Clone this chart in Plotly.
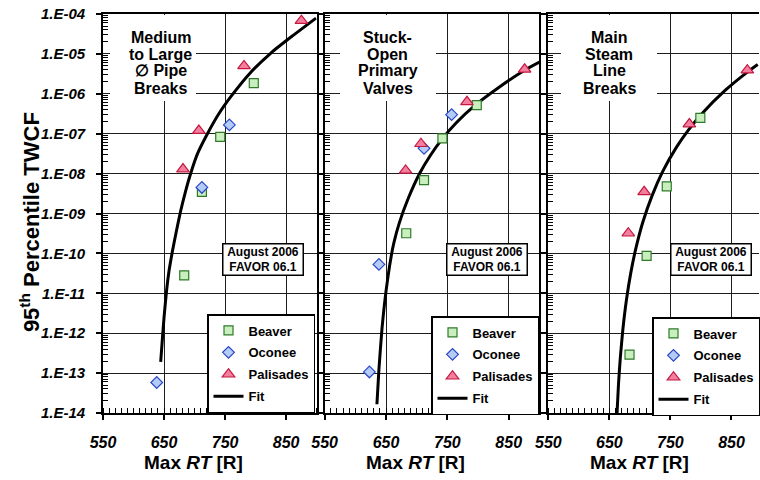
import plotly.graph_objects as go

# ---------------- data ----------------
panel_titles = [["Medium", "to Large", "\u2205 Pipe", "Breaks"],
                ["Stuck-", "Open", "Primary", "Valves"],
                ["Main", "Steam", "Line", "Breaks"]]

# Panel 1: Medium to Large Pipe Breaks
p1_beaver_x = [683, 712, 742, 797]
p1_beaver_y = [2.8e-11, 3.5e-9, 8.3e-8, 1.85e-6]
p1_oconee_x = [638, 712, 757]
p1_oconee_y = [5.8e-14, 4.5e-9, 1.66e-7]
p1_palis_x = [681, 707, 781, 875]
p1_palis_y = [1.3e-8, 1.2e-7, 5.0e-6, 6.8e-5]
p1_fit_x = [644.5, 647, 650, 654, 658, 664, 670, 677, 685, 694, 705, 720, 740, 760, 790, 825, 860, 899]
p1_fit_y = [1.9e-13, 6.3e-13, 2.5e-12, 1.12e-11, 3.5e-11, 1.2e-10, 3.5e-10, 1.12e-9, 3.5e-9, 1.05e-8,
            3.2e-8, 9.3e-8, 3.2e-7, 8.7e-7, 3.2e-6, 1.05e-5, 2.8e-5, 7.9e-5]

# Panel 2: Stuck-Open Primary Valves
p2_beaver_x = [683, 712, 742, 798]
p2_beaver_y = [3.2e-10, 6.9e-9, 7.6e-8, 5.2e-7]
p2_oconee_x = [623, 638.5, 712, 757]
p2_oconee_y = [1.07e-13, 5.3e-11, 4.3e-8, 3.0e-7]
p2_palis_x = [682, 707, 782, 876]
p2_palis_y = [1.2e-8, 5.6e-8, 6.3e-7, 4.1e-6]
p2_fit_x = [635.2, 638.5, 643.4, 650, 658.7, 663, 672, 686, 705, 722, 740.7, 765, 795, 835, 876, 901]
p2_fit_y = [1.66e-14, 1.26e-13, 1.26e-12, 1.12e-11, 8.9e-11, 1.9e-10, 6.0e-10, 2.34e-9, 1.02e-8, 2.8e-8,
            7.1e-8, 1.9e-7, 5.1e-7, 1.48e-6, 3.9e-6, 6.3e-6]

# Panel 3: Main Steam Line Breaks
p3_beaver_x = [683, 711, 744, 799]
p3_beaver_y = [2.9e-13, 8.7e-11, 4.8e-9, 2.5e-7]
p3_oconee_x = []
p3_oconee_y = []
p3_palis_x = [681, 707, 781, 876]
p3_palis_y = [3.2e-10, 3.5e-9, 1.74e-7, 3.9e-6]
p3_fit_x = [662, 665, 668, 672, 678, 685, 693, 705, 720, 737, 760, 780, 800, 840, 876, 893]
p3_fit_y = [6.9e-15, 5.5e-14, 2.5e-13, 1.2e-12, 6.9e-12, 3.2e-11, 1.26e-10, 6.2e-10, 2.8e-9, 1.1e-8,
            4.6e-8, 1.26e-7, 3.0e-7, 1.23e-6, 3.5e-6, 5.4e-6]

x_tick_vals = [550, 650, 750, 850]
y_tick_exps = [-4, -5, -6, -7, -8, -9, -10, -11, -12, -13, -14]
y_tick_text = ["1.E-%02d" % (-e) for e in y_tick_exps]
series_names = ["Beaver", "Oconee", "Palisades", "Fit"]

panels = [
    (p1_beaver_x, p1_beaver_y, p1_oconee_x, p1_oconee_y, p1_palis_x, p1_palis_y, p1_fit_x, p1_fit_y),
    (p2_beaver_x, p2_beaver_y, p2_oconee_x, p2_oconee_y, p2_palis_x, p2_palis_y, p2_fit_x, p2_fit_y),
    (p3_beaver_x, p3_beaver_y, p3_oconee_x, p3_oconee_y, p3_palis_x, p3_palis_y, p3_fit_x, p3_fit_y),
]

# ---------------- layout geometry ----------------
W, H = 760, 480
ML, MR, MT, MB = 103, 0, 14, 67
PW = W - ML - MR
PH = H - MT - MB
panel_px = [(103, 317), (325, 540), (549, 760)]
PXU = 214 / 350.0  # pixels per x unit
x_ranges = [[550, 900], [550, 900], [550, 550 + (760 - 549) / PXU]]


def px(xp):
    return (xp - ML) / PW


def py(yp):
    return 1 - (yp - MT) / PH


FONT = "Liberation Sans, Arial, sans-serif"
GRID = "#1e1e1e"

green_fill, green_line = "#c9efbf", "#2f7a2a"
blue_fill, blue_line = "#b4ccf5", "#2946c8"
red_fill, red_line = "#f37ea0", "#c4183e"

fig = go.Figure()

for i, (bx, by, ox, oy, px_, py_, fx, fy) in enumerate(panels):
    xa = "x" if i == 0 else "x%d" % (i + 1)
    ya = "y" if i == 0 else "y%d" % (i + 1)
    lg = "legend" if i == 0 else "legend%d" % (i + 1)
    fig.add_trace(go.Scatter(x=fx, y=fy, mode="lines", name=series_names[3],
                             line=dict(color="black", width=3, shape="spline", smoothing=0.5),
                             xaxis=xa, yaxis=ya, legend=lg, legendgroup="f%d" % i, legendrank=4))
    fig.add_trace(go.Scatter(x=bx, y=by, mode="markers", name=series_names[0],
                             marker=dict(symbol="square", size=9, color=green_fill, line=dict(color=green_line, width=1.2)),
                             xaxis=xa, yaxis=ya, legend=lg, legendgroup="b%d" % i, legendrank=1))
    fig.add_trace(go.Scatter(x=ox if ox else [None], y=oy if oy else [None], mode="markers", name=series_names[1],
                             marker=dict(symbol="diamond", size=9, color=blue_fill, line=dict(color=blue_line, width=1.2)),
                             xaxis=xa, yaxis=ya, legend=lg, legendgroup="o%d" % i, legendrank=2))
    fig.add_trace(go.Scatter(x=px_, y=py_, mode="markers", name=series_names[2],
                             marker=dict(symbol="triangle-up", size=11, color=red_fill, line=dict(color=red_line, width=1.2)),
                             xaxis=xa, yaxis=ya, legend=lg, legendgroup="p%d" % i, legendrank=3))

minor_y = []
for e in range(-14, -4):
    for k in range(2, 10):
        minor_y.append(k * 10.0 ** e)

layout = dict(width=W, height=H, margin=dict(l=ML, r=MR, t=MT, b=MB),
              paper_bgcolor="white", plot_bgcolor="white", showlegend=True,
              font=dict(family=FONT, color="black"))

for i in range(3):
    xk = "xaxis" if i == 0 else "xaxis%d" % (i + 1)
    yk = "yaxis" if i == 0 else "yaxis%d" % (i + 1)
    l, r = panel_px[i]
    layout[xk] = dict(domain=[(l - ML) / PW, (r - ML) / PW], range=x_ranges[i], type="linear",
                      tickmode="array", tickvals=x_tick_vals,
                      ticktext=["<i>%d</i>" % v for v in x_tick_vals],
                      showgrid=True, gridcolor=GRID, gridwidth=1.3,
                      showline=True, linecolor="black", linewidth=1.5, mirror=True,
                      ticks="outside", ticklen=5, tickcolor="black", tickwidth=1.5,
                      tickfont=dict(family=FONT, size=16, weight="bold", style="italic", color="black"),
                      ticklabelstandoff=9,
                      minor=dict(tickmode="linear", tick0=550, dtick=10, ticks="inside", ticklen=5,
                                 tickcolor="black", tickwidth=1, showgrid=False),
                      zeroline=False,
                      anchor="y" if i == 0 else "y%d" % (i + 1))
    layout[yk] = dict(domain=[0, 1], type="log", range=[-14, -4],
                      tickmode="array", tickvals=[10.0 ** e for e in y_tick_exps],
                      ticktext=["<i>%s</i>" % t for t in y_tick_text],
                      showticklabels=(i == 0),
                      showgrid=True, gridcolor=GRID, gridwidth=1.3,
                      showline=True, linecolor="black", linewidth=1.8, mirror=(i < 2),
                      ticks="outside", ticklen=5, tickcolor="black", tickwidth=1.5,
                      tickfont=dict(family=FONT, size=15, weight="bold", style="italic", color="black"),
                      ticklabelstandoff=8,
                      minor=dict(tickmode="array", tickvals=minor_y, ticks="inside", ticklen=5,
                                 tickcolor="black", tickwidth=1, showgrid=False),
                      zeroline=False,
                      anchor="x" if i == 0 else "x%d" % (i + 1))

legend_pos = [(207, 314), (431, 316), (653, 317)]
for i in range(3):
    lk = "legend" if i == 0 else "legend%d" % (i + 1)
    lx, ly = legend_pos[i]
    layout[lk] = dict(x=px(lx), y=py(ly), xanchor="left", yanchor="top", xref="paper", yref="paper",
                      bgcolor="white", bordercolor="black", borderwidth=1.5,
                      font=dict(family=FONT, size=13, weight="bold", color="black"),
                      traceorder="grouped", tracegroupgap=2, itemwidth=30)

fig.update_layout(**layout)

annos = []
# white boxes behind the panel titles (cover gridlines)
title_boxes = [(110, 196), (340, 436), (562, 658)]
for (x0p, x1p) in title_boxes:
    annos.append(dict(text=" ", x=px((x0p + x1p) / 2), y=py((MT + 1 + 101) / 2), xref="paper", yref="paper",
                      showarrow=False, xanchor="center", yanchor="middle",
                      width=x1p - x0p, height=101 - MT - 1, bgcolor="white", borderpad=0, borderwidth=0))

title_cx = [161, 388, 610]
line_y = [37, 54, 71, 88]
for i in range(3):
    for j, t in enumerate(panel_titles[i]):
        annos.append(dict(text=t, x=px(title_cx[i]), y=py(line_y[j]), xref="paper", yref="paper",
                          showarrow=False, xanchor="center", yanchor="middle",
                          font=dict(family=FONT, size=16, weight="bold", color="black")))

box_c = [(263, 259), (487.5, 259.5), (712, 259.5)]
for (cx, cy) in box_c:
    annos.append(dict(text="August 2006<br>FAVOR 06.1", x=px(cx), y=py(cy), xref="paper", yref="paper",
                      showarrow=False, xanchor="center", yanchor="middle", align="center",
                      bgcolor="white", bordercolor="black", borderwidth=1.5, borderpad=1,
                      width=77, height=28,
                      font=dict(family=FONT, size=12, weight="bold", color="black")))

xtitle_cx = [194, 416, 640]
for cx in xtitle_cx:
    annos.append(dict(text="Max <i>RT</i> [R]", x=px(cx), y=py(462), xref="paper", yref="paper",
                      showarrow=False, xanchor="center", yanchor="middle",
                      font=dict(family=FONT, size=19, weight="bold", color="black")))

annos.append(dict(text="95<sup>th</sup> Percentile TWCF", x=px(30), y=py(222), xref="paper", yref="paper",
                  showarrow=False, xanchor="center", yanchor="middle", textangle=-90,
                  font=dict(family=FONT, size=22, weight="bold", color="black")))

fig.update_layout(annotations=annos)

fig.write_html("out.html")
